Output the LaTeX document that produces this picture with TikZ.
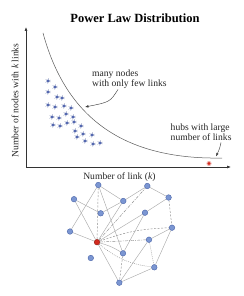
\documentclass[tikz,border=0pt]{standalone}
\usepackage{fontspec}
\setmainfont{Liberation Serif}
\usetikzlibrary{arrows.meta,backgrounds}
\definecolor{nodeblue}{HTML}{7B96D2}
\definecolor{nodeedge}{HTML}{4A64A8}
\definecolor{hubred}{HTML}{D22A1E}
\definecolor{hubedge}{HTML}{8A1A12}
\definecolor{starblue}{HTML}{5468B0}
\definecolor{spikegray}{HTML}{9AA4C4}
\definecolor{linkgray}{HTML}{ABABAB}
\definecolor{axisgray}{HTML}{333333}
\tikzset{
  txt/.style={font=\fontsize{9.6}{10.2}\selectfont, text=black!85, inner sep=0pt},
  netnode/.style={circle, inner sep=0pt, minimum size=5.6pt, fill=nodeblue, draw=nodeedge, line width=0.4pt},
  hubnode/.style={circle, inner sep=0pt, minimum size=5.6pt, fill=hubred, draw=hubedge, line width=0.4pt},
  sol/.style={draw=linkgray, line width=0.45pt},
  dsh/.style={draw=black!45, line width=0.45pt, dash pattern=on 2pt off 1.5pt},
  dsd/.style={draw=black!45, line width=0.45pt, dash pattern=on 3pt off 1.2pt on 0.8pt off 1.2pt},
  dtt/.style={draw=black!45, line width=0.5pt, dash pattern=on 0.8pt off 1.2pt},
  axisline/.style={draw=axisgray, line width=0.6pt, -{Latex[length=4pt,width=3pt]}},
  pointer/.style={draw=black!75, line width=0.45pt, -{Latex[length=3.5pt,width=2.6pt]}},
  hubstar/.pic={
    \foreach \a in {20,95,150,215,285,340} \draw[spikegray, line width=0.4pt] (0,0) -- (\a:2.9);
    \fill[starblue] (0,0) circle (1.6);
  }
}
\begin{document}
\begin{tikzpicture}[x=1pt,y=-1pt]
\useasboundingbox (0,0) rectangle (243,296);

% title
\node[font=\fontsize{12.5}{14}\selectfont\bfseries, inner sep=0pt] (title) at (135,18) {Power Law Distribution};

% axes
\coordinate (origin) at (26,167);
\coordinate (ytop) at (26,27);
\coordinate (xend) at (231,167);
\draw[axisline] (origin) -- (ytop);
\draw[axisline] (origin) -- (xend);

\node[txt, rotate=90] (ylab) at (15,100.5) {Number of nodes with \textit{k} links};
\node[txt] (xlab) at (119.5,177) {Number of link (\textit{k})};

% power law curve
\coordinate (cstart) at (43,33);
\coordinate (cend) at (222,158);
\draw[black!65, line width=0.5pt] (cstart) .. controls (64,110) and (115,160) .. (cend);

% annotations
\node[txt, anchor=west, align=left] (many) at (92,79) {many nodes\\with only few links};
\coordinate (manytail) at (118,89.5);
\coordinate (manytip) at (85,107);
\draw[pointer] (manytail) .. controls (110,102) .. (manytip);

\node[txt, anchor=west, align=left] (hubs) at (170.5,132) {hubs with large\\number of links};
\coordinate (hubtail) at (221,142.5);
\coordinate (hubtip) at (216,156.5);
\draw[pointer] (hubtail) .. controls (219.5,149) .. (hubtip);

% hub dot on plot
\fill[hubred!35] (209,163.5) circle (2.6);
\fill[hubred] (209,163.5) circle (1.6);

% star nodes
\foreach \p in {(48,81),(55,87),(48,92),(57,97),(62,98),(48,105),(55,107),(64,106),(71,108),
  (52,117),(59,118),(66,114),(73,117),(53,125),(60,126),(67,123),(74,122),(81,126),
  (75,131),(83,134),(77,137),(85,141),(92,135),(93,144),(100,143)}
  \pic at \p {hubstar};

% network
\node[netnode] (A) at (98.3,185) {};
\node[netnode] (B) at (147.3,186) {};
\node[netnode] (C) at (74,199.2) {};
\node[netnode] (D) at (123.3,201) {};
\node[netnode] (E) at (168.6,197.5) {};
\node[netnode] (F) at (100.7,213.3) {};
\node[netnode] (G) at (145,212.7) {};
\node[netnode] (H) at (70,231.5) {};
\node[netnode] (I) at (172,227.7) {};
\node[netnode] (J) at (149,239.7) {};
\node[netnode] (K) at (123,253.3) {};
\node[netnode] (L) at (90.8,258) {};
\node[netnode] (M) at (154.3,267.3) {};
\node[netnode] (N) at (119.3,282.7) {};
\node[hubnode] (R) at (97,242.2) {};

\begin{scope}[on background layer]
  \draw[sol] (A) -- (H);
  \draw[sol] (A) -- (K);
  \draw[sol] (A) -- (D);
  \draw[dsh] (A) -- (R);
  \draw[sol] (C) -- (F);
  \draw[sol] (C) -- (R);
  \draw[sol] (F) -- (D);
  \draw[sol] (D) -- (B);
  \draw[sol] (B) -- (E);
  \draw[dsd] (R) -- (B);
  \draw[sol] (R) -- (D);
  \draw[sol] (E) -- (G);
  \draw[dsh] (E) -- (I);
  \draw[sol] (R) -- (G);
  \draw[sol] (G) -- (K);
  \draw[sol] (I) -- (J);
  \draw[sol] (I) -- (M);
  \draw[dsh] (R) to[bend left=9] (I);
  \draw[dtt] (J) -- (M);
  \draw[sol] (J) -- (N);
  \draw[dsd] (R) -- (J);
  \draw[dsh] (K) -- (N);
  \draw[sol] (R) to[bend left=8] (K);
  \draw[sol] (M) -- (N);
  \draw[dtt] (R) to[bend right=16] (M);
  \draw[sol] (R) -- (N);
  \draw[sol] (H) -- (R);
\end{scope}
\end{tikzpicture}
\end{document}
